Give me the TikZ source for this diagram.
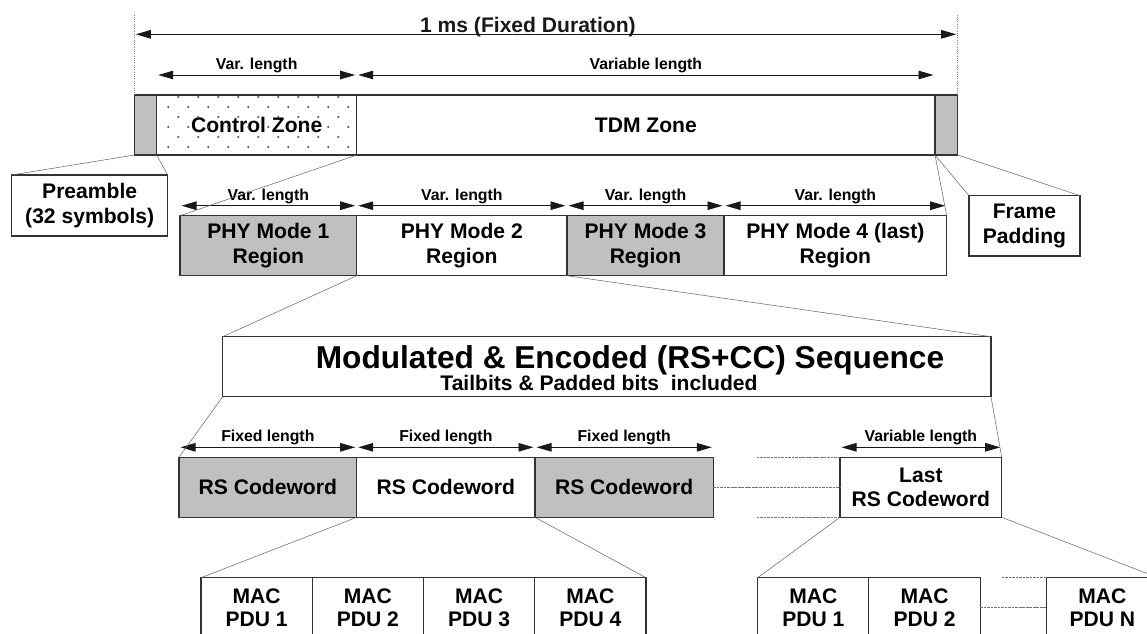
\documentclass[tikz,border=0pt]{standalone}
\usepackage{fontspec}
\setmainfont{Liberation Sans}
\usetikzlibrary{arrows.meta,positioning}
\definecolor{cell-gray}{RGB}{192,192,192}
\tikzset{
  frame-cell/.style={draw=black!80, fill=white, line width=0.6pt, outer sep=0pt, inner sep=0pt,
    minimum height=1.2cm, align=center, font=\fontsize{12}{13.8}\selectfont\bfseries},
  frame-shaded/.style={frame-cell, fill=cell-gray},
  mac-cell/.style={frame-cell, minimum width=2.225cm, font=\fontsize{12}{12.6}\selectfont\bfseries},
  dim-arrow/.style={{Triangle[length=0.3cm,width=0.17cm]}-{Triangle[length=0.3cm,width=0.17cm]},
    line width=0.55pt, black!90, shorten <=0.03cm, shorten >=0.03cm},
  dim-label/.style={above, inner sep=1pt, font=\fontsize{9}{10}\selectfont\bfseries, black},
  fan-line/.style={draw=black!60, line width=0.3pt},
  gap-line/.style={draw=black!55, line width=0.4pt, dash pattern=on 1.5pt off 0.5pt}
}

\begin{document}
\begin{tikzpicture}[x=1cm, y=1cm]
  \useasboundingbox (0,0) rectangle (22.94,-12.66);
  \clip (0,0) rectangle (22.94,-12.66);

  % Frame: preamble, control zone, TDM zone, padding
  \node[frame-shaded, minimum width=0.448cm, anchor=north west] (pre) at (2.686,-1.9) {};
  \node[frame-cell, minimum width=4.0cm, right=0pt of pre] (ctrl) {Control Zone};
  \node[frame-cell, minimum width=11.566cm, right=0pt of ctrl] (tdm) {TDM Zone};
  \node[frame-shaded, minimum width=0.454cm, right=0pt of tdm] (pad) {};

  % dot fill of the control zone
  \begin{scope}
    \clip (ctrl.south west) rectangle (ctrl.north east);
    \foreach \r in {0,...,5}
      \foreach \c in {0,...,9}
        \fill[black!70] ({3.366+0.2*mod(\r+1,2)+0.4*\c},{-1.94-0.2*\r}) circle (0.022);
  \end{scope}

  % Duration markers
  \draw[black!50, line width=0.3pt, densely dotted] (pre.north west) -- ++(0,1.6);
  \draw[black!50, line width=0.3pt, densely dotted] (pad.north east) -- ++(0,1.6);
  \draw[dim-arrow] ([yshift=1.214cm]pre.north west) --
    node[pos=0.478, anchor=base, yshift=0.04cm, inner sep=0pt, font=\fontsize{12}{14}\selectfont\bfseries] {1 ms (Fixed Duration)}
    ([yshift=1.214cm]pad.north east);
  \draw[dim-arrow] ([yshift=0.4cm]ctrl.north west) -- node[dim-label] {Var. length} ([yshift=0.4cm]ctrl.north east);
  \draw[dim-arrow] ([yshift=0.4cm]tdm.north west) -- node[dim-label] {Variable length} ([yshift=0.4cm]tdm.north east);

  % Preamble and padding call-outs
  \node[frame-cell, minimum width=3.12cm, minimum height=1.22cm, anchor=north west] (pre-note) at (0.234,-3.5)
    {Preamble\\(32 symbols)};
  \draw[fan-line] (pre.south west) -- (pre-note.north west);
  \draw[fan-line] (pre.south east) -- (pre-note.north east);
  \node[frame-cell, minimum width=2.22cm, minimum height=1.206cm, anchor=north west] (pad-note) at (19.38,-3.914)
    {Frame\\Padding};
  \draw[fan-line] (pad.south west) -- (pad-note.north west);
  \draw[fan-line] (pad.south east) -- (pad-note.north east);

  % PHY mode regions
  \node[frame-shaded, minimum width=3.534cm, anchor=north west] (phy1) at (3.6,-4.314) {PHY Mode 1\\Region};
  \node[frame-cell, minimum width=4.206cm, right=0pt of phy1] (phy2) {PHY Mode 2\\Region};
  \node[frame-shaded, minimum width=3.14cm, right=0pt of phy2] (phy3) {PHY Mode 3\\Region};
  \node[frame-cell, minimum width=4.454cm, right=0pt of phy3] (phy4) {PHY Mode 4 (last)\\Region};
  \foreach \cell in {phy1,phy2,phy3,phy4}
    \draw[dim-arrow] ([yshift=0.2cm]\cell.north west) -- node[dim-label] {Var. length} ([yshift=0.2cm]\cell.north east);
  \draw[fan-line] (ctrl.south east) -- (phy1.north west);
  \draw[fan-line] (tdm.south east) -- (phy4.north east);

  % Encoded sequence
  \node[frame-cell, minimum width=15.366cm, anchor=north west] (seq) at (4.454,-6.734) {};
  \node[font=\fontsize{18}{20}\selectfont\bfseries, anchor=base, inner sep=0pt] (seq-title) at (12.6,-7.366)
    {Modulated \& Encoded (RS+CC) Sequence};
  \node[font=\fontsize{12}{14}\selectfont\bfseries, anchor=base, inner sep=0pt] (seq-sub) at (11.98,-7.8)
    {Tailbits \& Padded bits\ \ included};
  \draw[fan-line] (phy2.south west) -- (seq.north west);
  \draw[fan-line] (phy2.south east) -- (seq.north east);

  % RS codewords
  \node[frame-shaded, minimum width=3.554cm, anchor=north west] (rs1) at (3.58,-9.146) {RS Codeword};
  \node[frame-cell, minimum width=3.566cm, right=0pt of rs1] (rs2) {RS Codeword};
  \node[frame-shaded, minimum width=3.566cm, right=0pt of rs2] (rs3) {RS Codeword};
  \node[frame-cell, minimum width=3.234cm, anchor=north west] (rs-last) at (16.8,-9.146) {Last\\RS Codeword};
  \foreach \cell in {rs1,rs2,rs3}
    \draw[dim-arrow] ([yshift=0.2cm]\cell.north west) -- node[dim-label] {Fixed length} ([yshift=0.2cm]\cell.north east);
  \draw[dim-arrow] ([yshift=0.2cm]rs-last.north west) -- node[dim-label] {Variable length} ([yshift=0.2cm]rs-last.north east);
  \draw[gap-line] ([xshift=-1.666cm]rs-last.north west) -- (rs-last.north west);
  \draw[gap-line] (rs3.east) -- (rs-last.west);
  \draw[gap-line] ([xshift=-1.666cm]rs-last.south west) -- (rs-last.south west);
  \draw[fan-line] (seq.south west) -- (rs1.north west);
  \draw[fan-line] (seq.south east) -- (rs-last.north east);

  % MAC PDUs
  \node[mac-cell, anchor=north west] (mac1) at (4.02,-11.554) {MAC\\PDU 1};
  \node[mac-cell, right=0pt of mac1] (mac2) {MAC\\PDU 2};
  \node[mac-cell, right=0pt of mac2] (mac3) {MAC\\PDU 3};
  \node[mac-cell, right=0pt of mac3] (mac4) {MAC\\PDU 4};
  \node[mac-cell, anchor=north west] (last-mac1) at (15.154,-11.554) {MAC\\PDU 1};
  \node[mac-cell, right=0pt of last-mac1] (last-mac2) {MAC\\PDU 2};
  \node[mac-cell, anchor=north west] (last-macN) at (20.934,-11.554) {MAC\\PDU N};
  \draw[gap-line] ([xshift=-0.9cm]last-macN.north west) -- (last-macN.north west);
  \draw[gap-line] (last-mac2.east) -- (last-macN.west);
  \draw[fan-line] (rs2.south west) -- (mac1.north west);
  \draw[fan-line] (rs2.south east) -- (mac4.north east);
  \draw[fan-line] (rs-last.south west) -- (last-mac1.north west);
  \draw[fan-line] (rs-last.south east) -- (last-macN.north east);
\end{tikzpicture}
\end{document}
